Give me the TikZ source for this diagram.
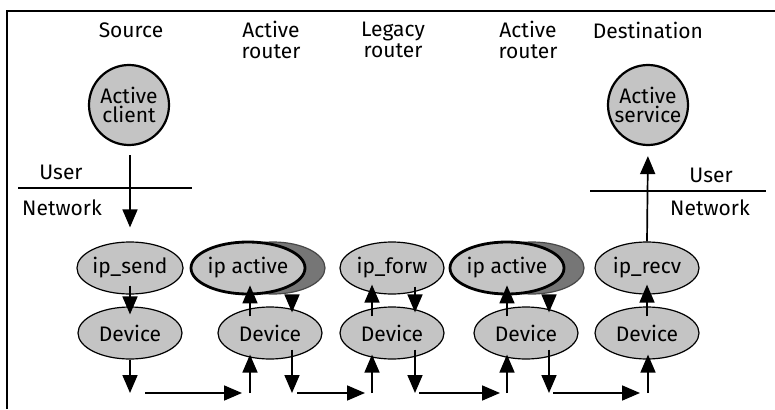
\documentclass[tikz,border=0pt]{standalone}
\usepackage{fontspec}
\setmainfont{Fira Sans}
\usetikzlibrary{arrows.meta, shapes.geometric, positioning}
\definecolor{blobgray}{RGB}{196,196,196}
\definecolor{shadowgray}{RGB}{118,118,118}

\tikzset{
    lbl/.style={font=\fontsize{21}{21}\selectfont, align=center, inner sep=0pt},
    blob/.style={ellipse, draw, fill=blobgray, line width=1.2pt, minimum width=104pt,
        minimum height=52pt, inner sep=0pt, font=\fontsize{21}{21}\selectfont},
    actblob/.style={blob, line width=2.8pt},
    shadowblob/.style={blob, fill=shadowgray, draw=shadowgray!60!black},
    endpt/.style={circle, draw, line width=2.2pt, fill=blobgray, minimum size=80pt,
        inner sep=0pt, align=center, font=\fontsize{21}{19}\selectfont},
    arr/.style={line width=1.7pt, -{Triangle[length=18pt,width=15pt]}},
    layer/.style={line width=1.2pt}
}

\begin{document}
\begin{tikzpicture}[x=1pt, y=-1pt]
    % Frame
    \useasboundingbox (0,0) rectangle (775,409);
    \fill[white] (0,0) rectangle (775,409);
    \draw[line width=1.2pt] (7,409) -- (7,11) -- (775,11);

    % Column titles
    \node[lbl] (src) at (131,30) {Source};
    \node[lbl] (ar1) at (271,40) {Active\\router};
    \node[lbl] (lr) at (393,40) {Legacy\\router};
    \node[lbl] (ar2) at (528,40) {Active\\router};
    \node[lbl] (dst) at (648,30) {Destination};

    % === Source ===
    \node[endpt] (client) at (129,105) {Active\\client};
    \draw[layer] (18,188) -- (192,188);
    \node[lbl] (usr1) at (61,172) {User};
    \node[lbl] (net1) at (62,208) {Network};
    \coordinate (ut) at (130,155);
    \node[blob] (send) at (130,268) {ip\_send};
    \node[blob] (dev1) at (130,333) {Device};
    \coordinate (b1) at (130,393);
    \draw[arr, shorten >=14pt] (ut) -- (send.north);
    \draw[arr, shorten <=-9pt, shorten >=-8pt] (send.south) -- (dev1.north);
    \draw[arr] (dev1.south) -- (b1);

    % === Active router 1 ===
    \node[shadowblob] (sh1) at (273,268) {};
    \node[actblob] (act1) at (248,268) {ip active};
    \node[blob] (dev2) at (270,333) {Device};
    \coordinate (u2) at (250,393);
    \coordinate (d2) at (292,393);
    \draw[arr] (b1) ++(15,0) -- ([xshift=-8pt]u2);
    \draw[arr, shorten >=-5pt] (u2) -- (u2 |- dev2.south);
    \draw[arr, shorten <=-10pt, shorten >=-10pt] (u2 |- dev2.north) -- (u2 |- act1.south);
    \draw[arr, shorten <=-8pt, shorten >=-6pt] (d2 |- act1.south) -- (d2 |- dev2.north);
    \draw[arr, shorten <=-10pt] (d2 |- dev2.south) -- (d2);

    % === Legacy router ===
    \node[blob] (forw) at (392,268) {ip\_forw};
    \node[blob] (dev3) at (392,333) {Device};
    \coordinate (u3) at (372,393);
    \coordinate (d3) at (415,393);
    \draw[arr, shorten <=5pt, shorten >=7pt] (d2) -- (u3);
    \draw[arr, shorten >=-5pt] (u3) -- (u3 |- dev3.south);
    \draw[arr, shorten <=-10pt, shorten >=-10pt] (u3 |- dev3.north) -- (u3 |- forw.south);
    \draw[arr, shorten <=-8pt, shorten >=-6pt] (d3 |- forw.south) -- (d3 |- dev3.north);
    \draw[arr, shorten <=-10pt] (d3 |- dev3.south) -- (d3);

    % === Active router 2 ===
    \node[shadowblob] (sh2) at (532,268) {};
    \node[actblob] (act2) at (507,268) {ip active};
    \node[blob] (dev4) at (526,333) {Device};
    \coordinate (u4) at (507,393);
    \coordinate (d4) at (549,393);
    \draw[arr, shorten <=4pt, shorten >=7pt] (d3) -- (u4);
    \draw[arr, shorten >=-5pt] (u4) -- (u4 |- dev4.south);
    \draw[arr, shorten <=-10pt, shorten >=-10pt] (u4 |- dev4.north) -- (u4 |- act2.south);
    \draw[arr, shorten <=-8pt, shorten >=-6pt] (d4 |- act2.south) -- (d4 |- dev4.north);
    \draw[arr, shorten <=-10pt] (d4 |- dev4.south) -- (d4);

    % === Destination ===
    \node[endpt] (service) at (648,105) {Active\\service};
    \draw[layer] (590,191) -- (766,191);
    \node[lbl] (usr2) at (711,175) {User};
    \node[lbl] (net2) at (710,208) {Network};
    \node[blob] (recv) at (647,268) {ip\_recv};
    \node[blob] (dev5) at (647,333) {Device};
    \coordinate (u5) at (648,393);
    \draw[arr, shorten <=4pt, shorten >=8pt] (d4) -- (u5);
    \draw[arr, shorten >=-5pt] (u5) -- (u5 |- dev5.south);
    \draw[arr, shorten <=-10pt, shorten >=-10pt] (dev5.north) -- (recv.south);
    \draw[arr, shorten >=10pt] (recv.north) -- (service.south);
\end{tikzpicture}
\end{document}
